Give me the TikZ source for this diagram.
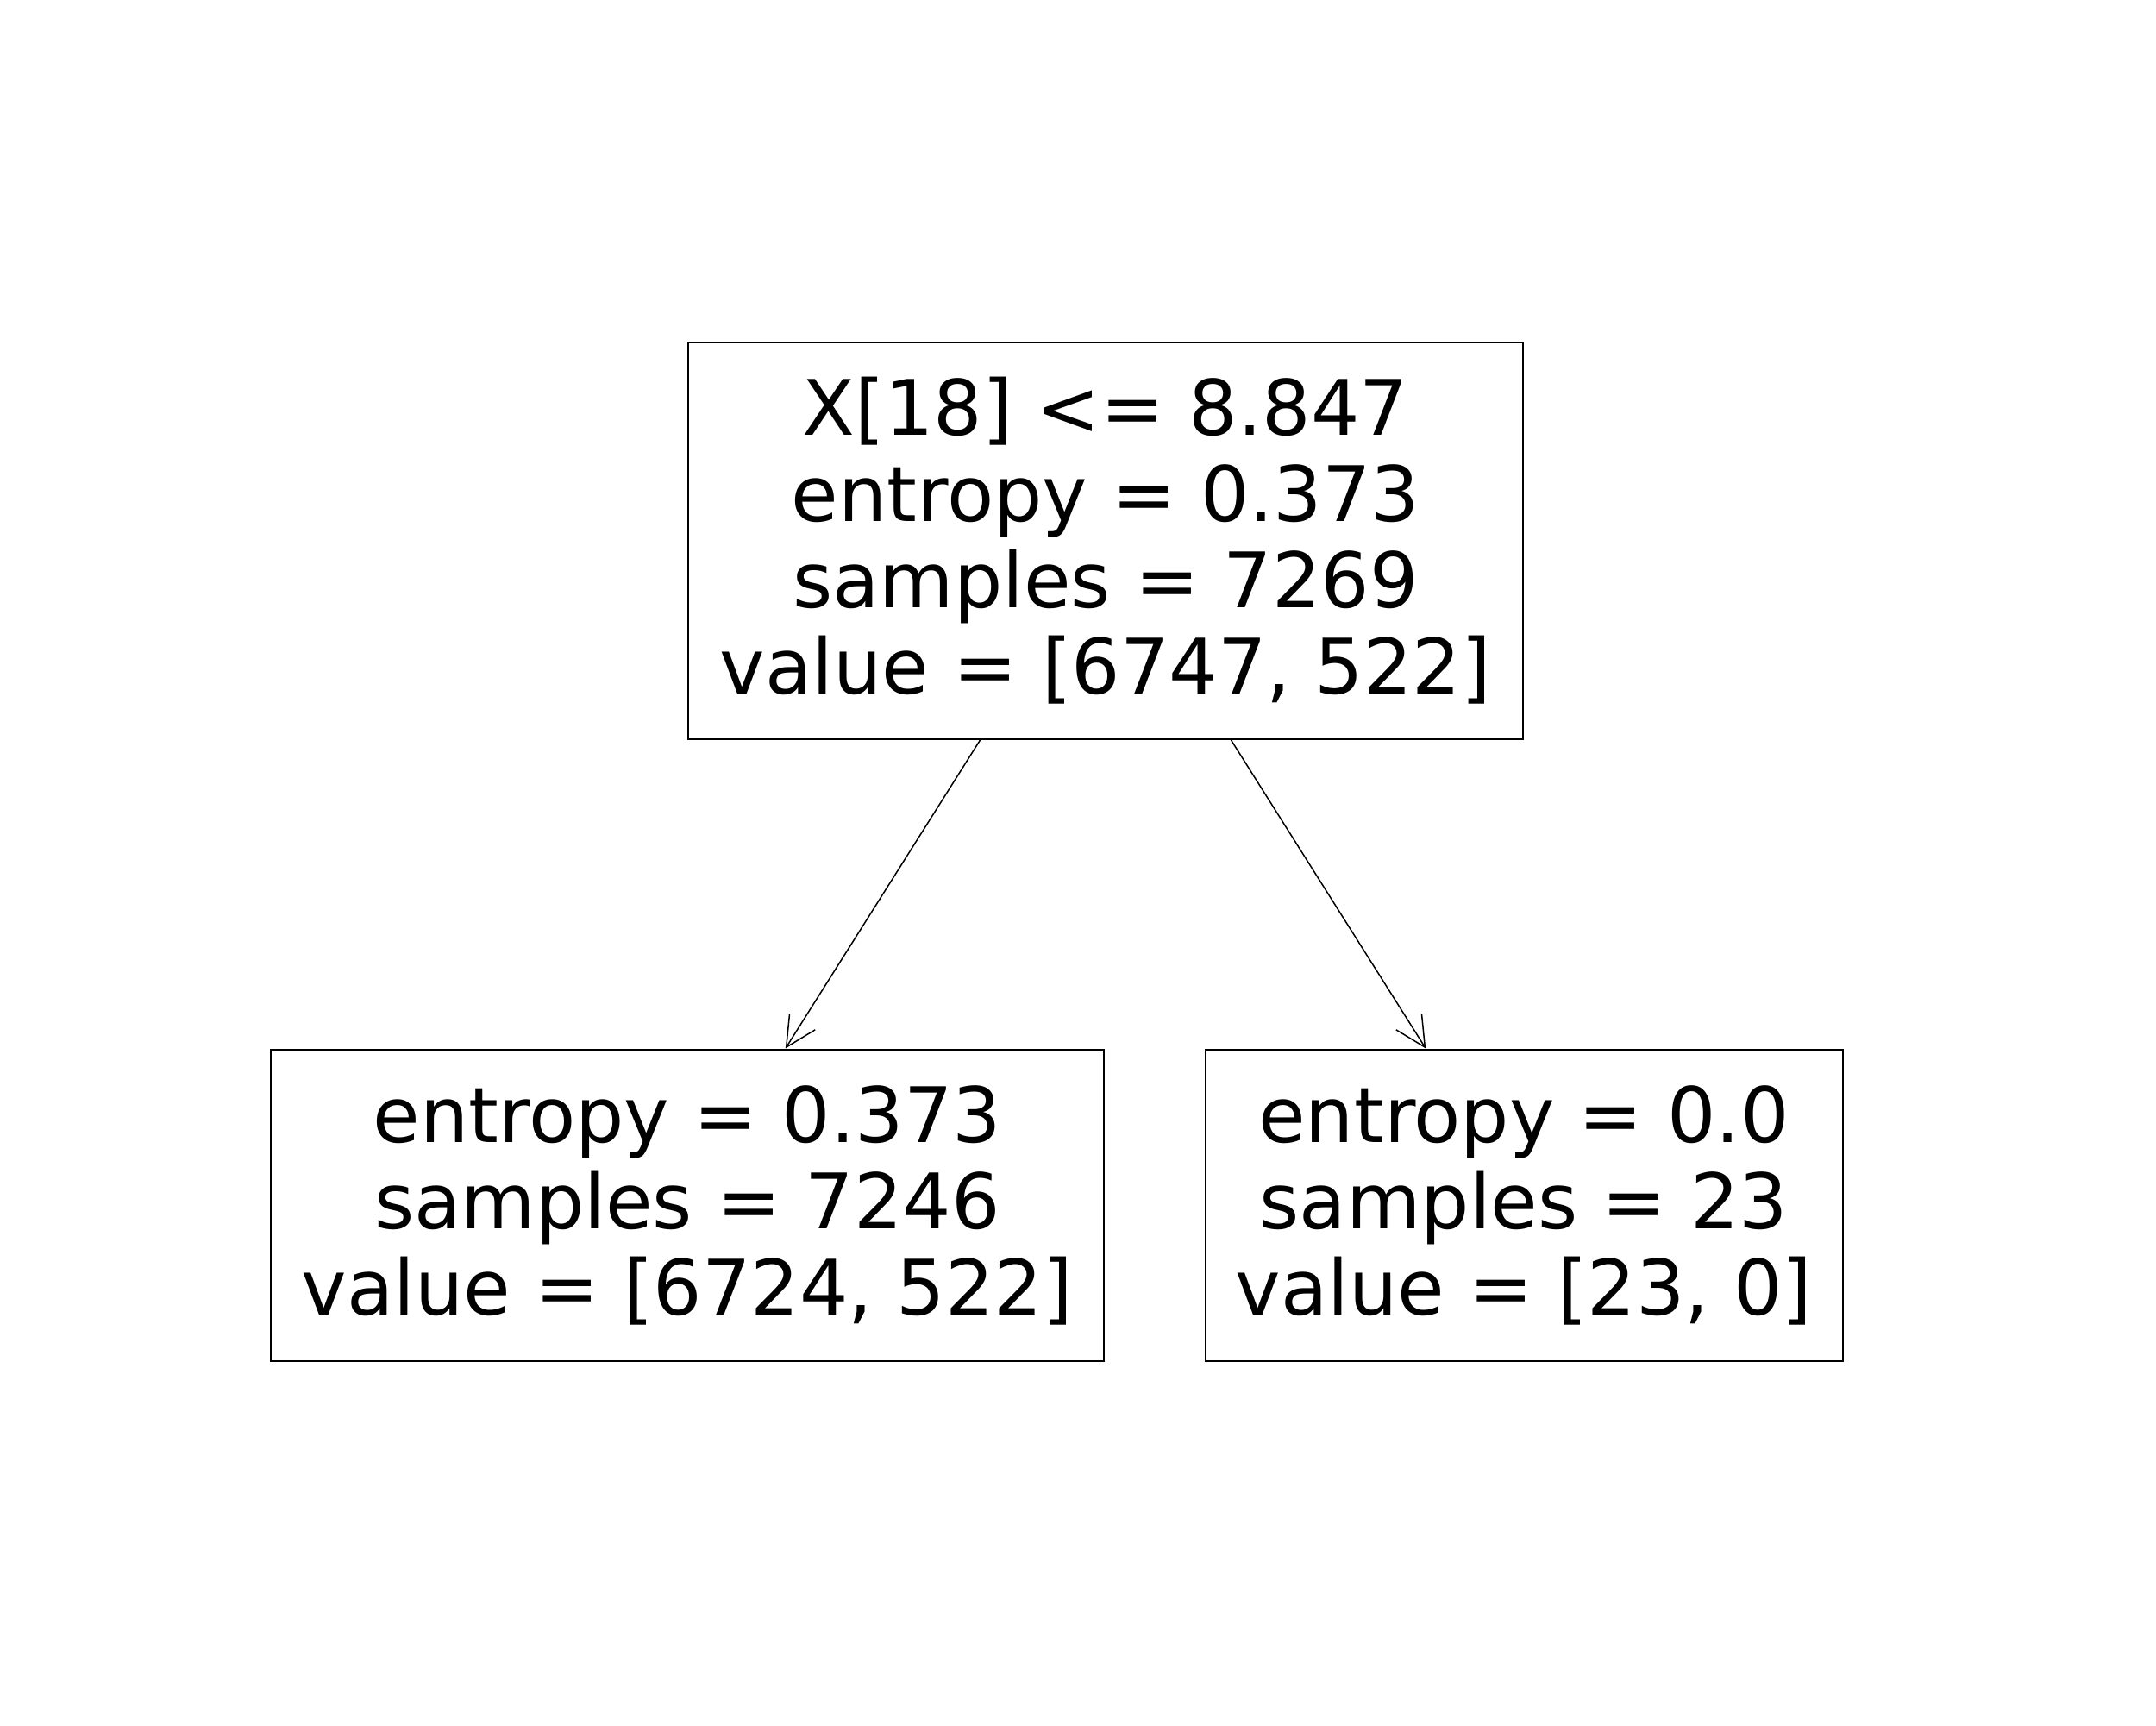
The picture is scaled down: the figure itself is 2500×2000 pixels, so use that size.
\documentclass[tikz,border=0pt]{standalone}
\usepackage{fontspec}
\setmainfont{DejaVu Sans}
\usetikzlibrary{arrows.meta}
\begin{document}
\begin{tikzpicture}[
		x=0.4bp, y=-0.4bp,
		level distance=308bp,
		level 1/.style={sibling distance=388bp},
		every node/.style={rectangle, draw, line width=0.8bp, align=center, inner sep=0pt,
			font=\fontsize{35.5bp}{40bp}\selectfont},
		edge from parent/.style={draw, line width=0.6bp, -{Straight Barb[length=14bp, width=14bp]}}
		]
		\useasboundingbox (0,0) rectangle (2500,2000);
		% Root split
		\node[minimum width=386.8bp, minimum height=184bp] (root) at (1282,627)
			{X[18] <= 8.847\\entropy = 0.373\\samples = 7269\\value = [6747, 522]}
		% Left leaf
		child {node[minimum width=386.4bp, minimum height=144.4bp] (left)
			{entropy = 0.373\\samples = 7246\\value = [6724, 522]}}
		% Right leaf
		child {node[minimum width=295.6bp, minimum height=144.4bp] (right)
			{entropy = 0.0\\samples = 23\\value = [23, 0]}};
	\end{tikzpicture}
\end{document}
